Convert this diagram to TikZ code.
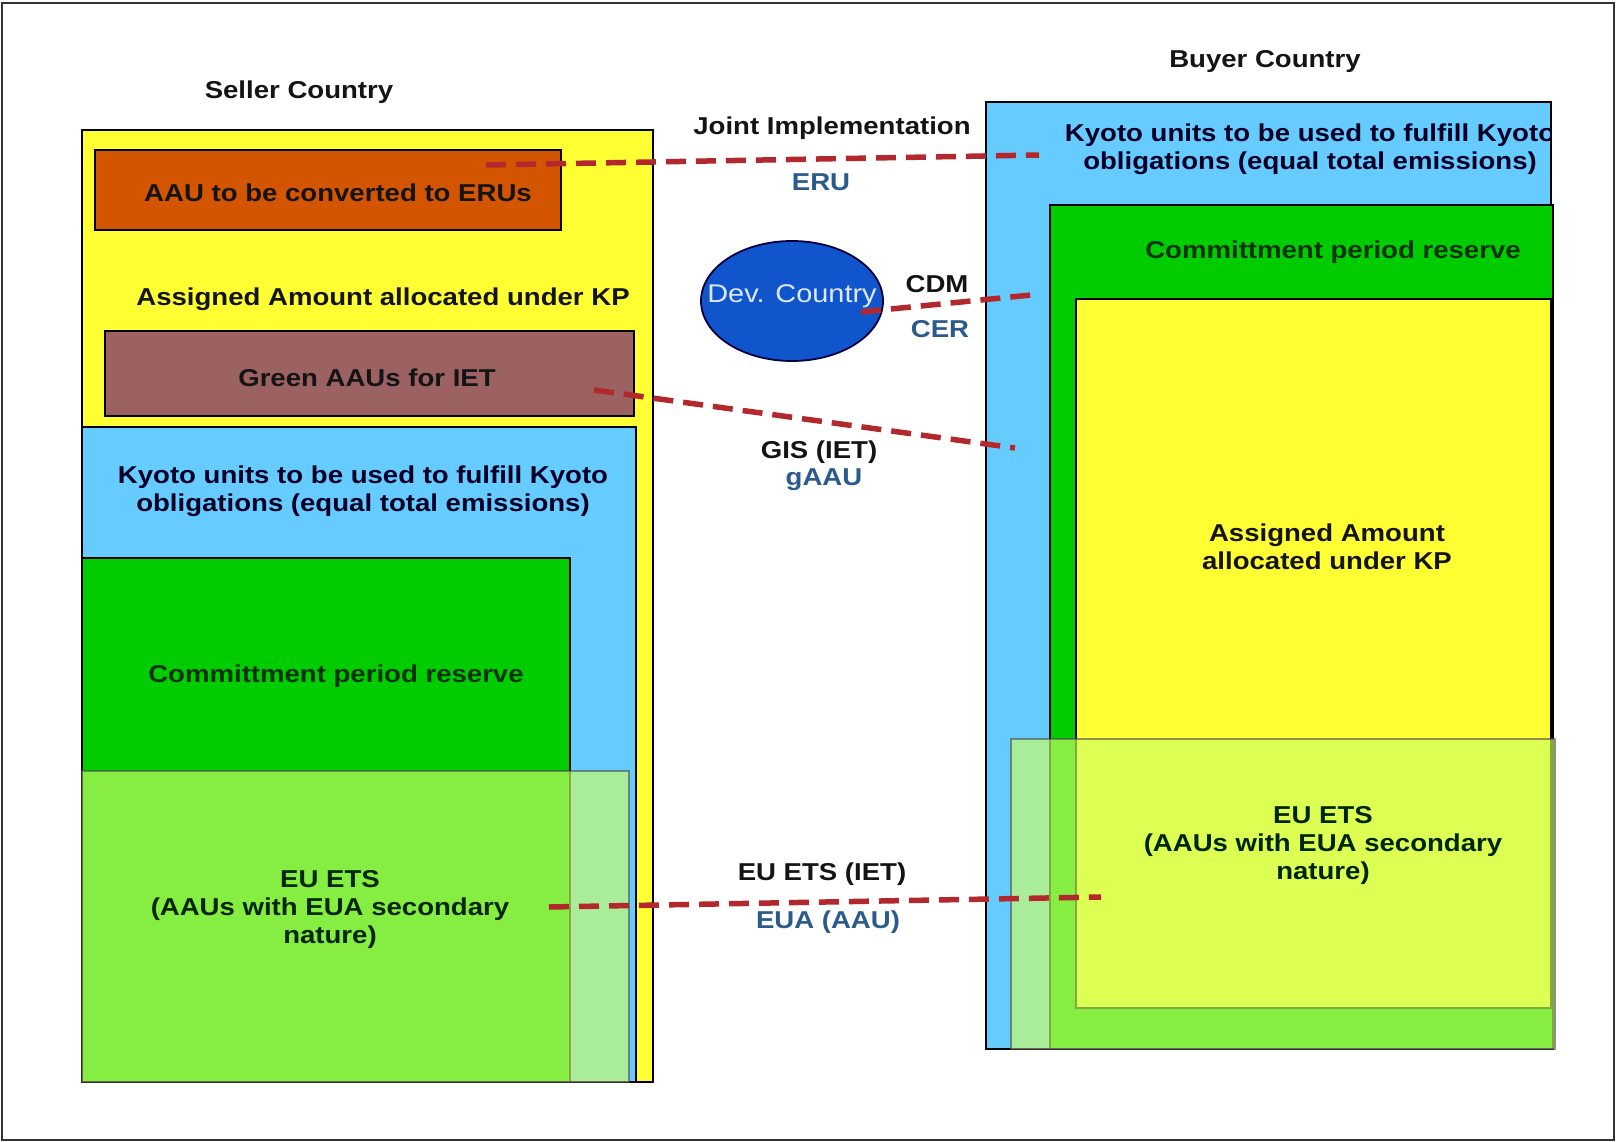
\documentclass[tikz,border=0pt]{standalone}
\usepackage{fontspec}
\setmainfont{Liberation Sans}[FakeStretch=1.13]
\usetikzlibrary{shapes.geometric}
\definecolor{cyellow}{HTML}{FFFF33}
\definecolor{corange}{HTML}{D45500}
\definecolor{cbrown}{HTML}{9C6262}
\definecolor{cblue}{HTML}{66CCFF}
\definecolor{cgreen}{HTML}{00CC00}
\definecolor{cets}{HTML}{CCFF66}
\definecolor{cdash}{HTML}{B3282C}
\definecolor{clabel}{HTML}{2B5B8C}
\definecolor{ctext}{HTML}{141414}
\definecolor{cdev}{HTML}{1155CC}
\definecolor{cdevtext}{HTML}{DCE8FF}
\tikzset{
  box/.style={draw=black, line width=1.6pt, inner sep=0pt, outer sep=0pt, anchor=north west},
  etsbox/.style={box, fill=cets, fill opacity=0.66, draw=black!70, draw opacity=0.6, line width=1.4pt},
  lbl/.style={font=\fontsize{24.4}{28}\selectfont\bfseries, text=ctext, align=center, inner sep=0pt, yshift=-3pt},
  blbl/.style={lbl, text=clabel},
  flow/.style={draw=cdash, line width=5.5pt, dash pattern=on 20pt off 10pt},
}
\begin{document}
\begin{tikzpicture}[x=1pt,y=-1pt]
\useasboundingbox (0,0) rectangle (1616,1142);
\fill[white] (0,0) rectangle (1616,1142);
\node[draw=black!80, line width=2pt, inner sep=0pt, outer sep=0pt, anchor=north west, minimum width=1612pt, minimum height=1137pt] (frame) at (2,3) {};

% Seller
\node[box, fill=cyellow, minimum width=571pt, minimum height=952pt] (syellow) at (82,130) {};
\node[box, fill=corange, minimum width=466pt, minimum height=80pt] (saau) at (95,150) {};
\node[box, fill=cbrown, minimum width=529pt, minimum height=85pt] (sgreen) at (105,331) {};
\node[box, fill=cblue, minimum width=554pt, minimum height=655pt] (skyoto) at (82,427) {};
\node[box, fill=cgreen, minimum width=488pt, minimum height=524pt] (scommit) at (82,558) {};
\node[etsbox, minimum width=547pt, minimum height=311pt] (sets) at (82,771) {};

\node[lbl] (tseller) at (299,89) {Seller Country};
\node[lbl] (taau) at (338,190) {AAU to be converted to ERUs};
\node[lbl] (tsassigned) at (383,296) {Assigned Amount allocated under KP};
\node[lbl] (tsgreen) at (367,375) {Green AAUs for IET};
\node[lbl, text=black!85!blue] (tskyoto) at (363,488) {Kyoto units to be used to fulfill Kyoto\\obligations (equal total emissions)};
\node[lbl, text=black!80!green] (tscommit) at (336,673) {Committment period reserve};
\node[lbl, text=black!85!green] (tsets) at (330,907) {EU ETS\\(AAUs with EUA secondary\\nature)};

% Buyer
\node[box, fill=cblue, minimum width=565pt, minimum height=947pt] (bkyoto) at (986,102) {};
\node[box, fill=cgreen, minimum width=503pt, minimum height=844pt] (bcommit) at (1050,205) {};
\node[box, fill=cyellow, minimum width=475pt, minimum height=709pt] (bassigned) at (1076,299) {};
\node[etsbox, minimum width=544pt, minimum height=310pt] (bets) at (1011,739) {};

\node[lbl] (tbuyer) at (1265,59) {Buyer Country};
\begin{scope}
\clip (986,102) rectangle (1551,1049);
\node[lbl, text=black!85!blue] (tbkyoto) at (1310,146) {Kyoto units to be used to fulfill Kyoto\\obligations (equal total emissions)};
\end{scope}
\node[lbl, text=black!80!green] (tbcommit) at (1333,249) {Committment period reserve};
\node[lbl] (tbassigned) at (1327,544) {Assigned Amount\\allocated under KP};
\node[lbl, text=black!85!green] (tbets) at (1323,843) {EU ETS\\(AAUs with EUA secondary\\nature)};

% Middle
\node[ellipse, draw=black!75!blue, line width=1.8pt, fill=cdev, minimum width=182pt, minimum height=120pt, inner sep=0pt] (dev) at (792,301) {};
\node[font=\fontsize{25.6}{28}\selectfont, text=cdevtext, inner sep=0pt] (tdev) at (792,296) {Dev. Country};

\node[lbl] (tji) at (832,125) {Joint Implementation};
\node[blbl] (teru) at (821,179) {ERU};
\node[lbl] (tcdm) at (937,281) {CDM};
\node[blbl] (tcer) at (940,326) {CER};
\node[lbl] (tgis) at (819,449) {GIS (IET)};
\node[blbl] (tgaau) at (824,477) {gAAU};
\node[lbl] (tetsiet) at (822,871) {EU ETS (IET)};
\node[blbl] (teua) at (828,919) {EUA (AAU)};

% connectors
\coordinate (jiA) at (486,165);
\coordinate (jiB) at (1039,155);
\coordinate (cdmA) at (861,312);
\coordinate (cdmB) at (1031,295);
\coordinate (gisA) at (594,390);
\coordinate (gisB) at (1015,448);
\coordinate (etsA) at (549,907);
\coordinate (etsB) at (1101,897);
\draw[flow] (jiA) -- (jiB);
\draw[flow] (cdmA) -- (cdmB);
\draw[flow] (gisA) -- (gisB);
\draw[flow] (etsA) -- (etsB);
\end{tikzpicture}
\end{document}
